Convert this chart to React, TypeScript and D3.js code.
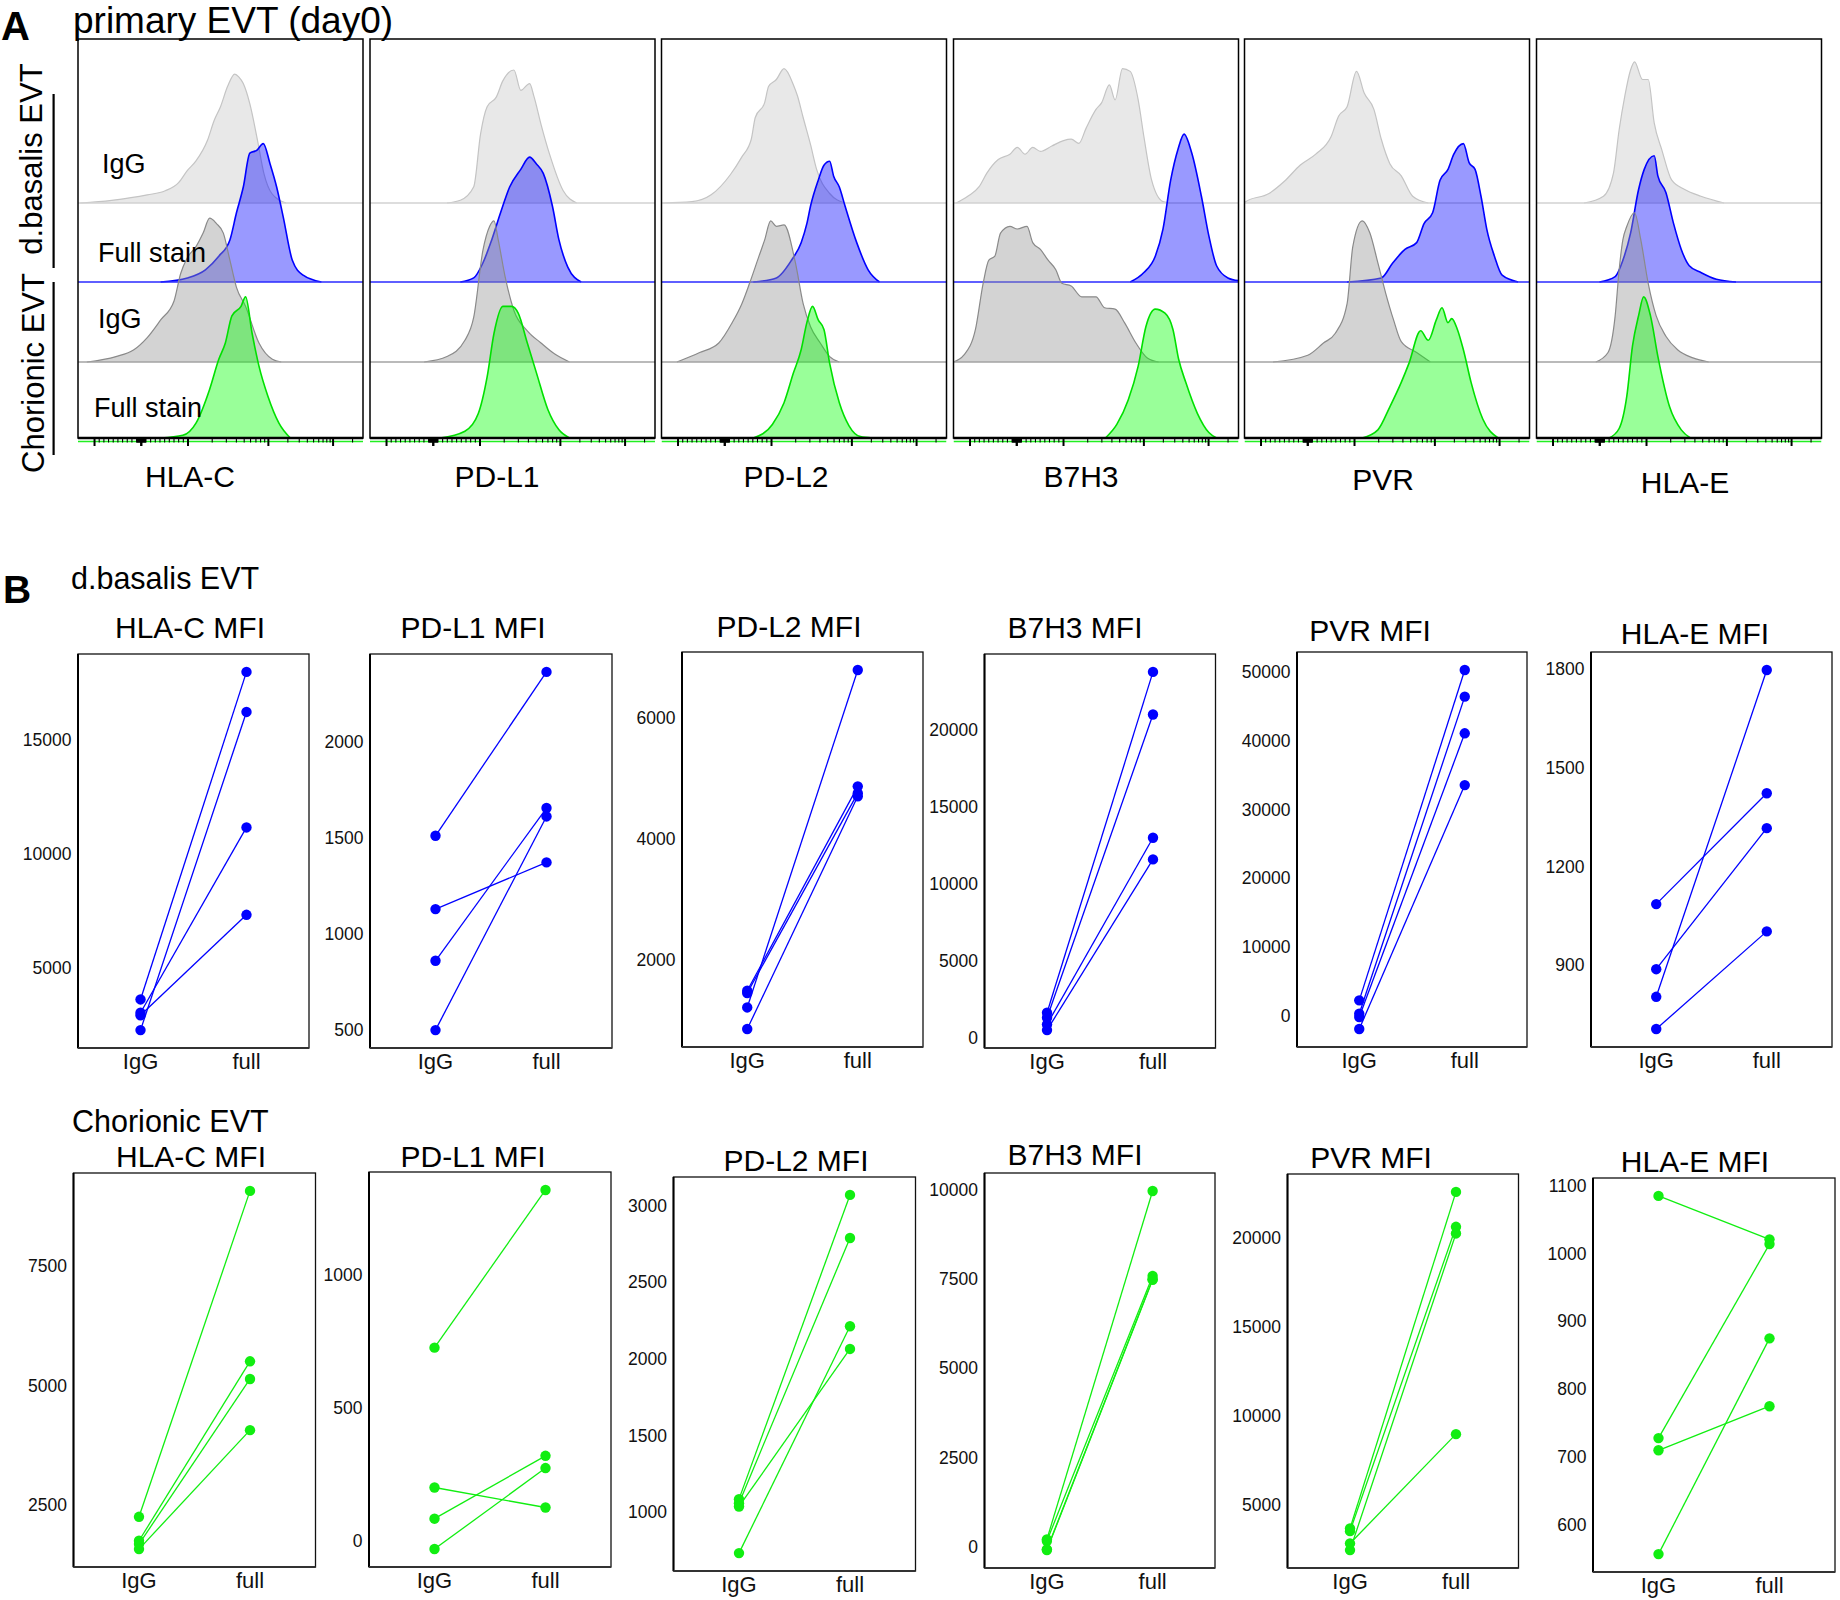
import React from "react";
import * as d3 from "d3";

const FONT = "'Liberation Sans', Arial, Helvetica, sans-serif";

// ---------------- Panel A: flow histograms ----------------
const histMarkers = ["HLA-C", "PD-L1", "PD-L2", "B7H3", "PVR", "HLA-E"];
const rowLabels = ["IgG", "Full stain", "IgG", "Full stain"];
const groupLabels = ["d.basalis EVT", "Chorionic EVT"];

// [channel (0-1000 across panel), % of mode]
const hlacBasalisIgG = [[8,0],[118,2],[243,6],[306,9],[353,15],[384,24],[414,31],[454,46],[478,61],[500,71],[525,86],[550,95],[564,93],[580,88],[603,73],[630,46],[652,22],[680,7],[730,0]];
const hlacBasalisFull = [[290,0],[384,3],[447,9],[494,19],[533,31],[556,51],[580,70],[603,95],[627,97],[650,102],[674,87],[697,70],[720,48],[752,16],[790,5],[854,0]];
const hlacChorIgG = [[31,0],[133,4],[196,9],[243,18],[290,31],[337,45],[360,65],[384,77],[414,85],[439,95],[462,106],[486,102],[510,95],[533,75],[556,55],[588,41],[635,14],[682,2],[713,0]];
const hlacChorFull = [[290,0],[368,2],[414,11],[462,36],[494,58],[517,70],[540,90],[572,97],[588,104],[611,77],[635,53],[666,31],[705,11],[745,0]];

const pdl1BasalisIgG = [[270,0],[317,2],[364,12],[388,51],[411,71],[443,78],[466,90],[505,98],[529,83],[560,88],[576,78],[600,58],[630,36],[678,9],[725,0]];
const pdl1BasalisFull = [[317,0],[364,3],[396,14],[427,31],[458,51],[490,70],[529,83],[560,92],[584,87],[608,80],[640,56],[663,31],[694,11],[741,0]];
const pdl1ChorIgG = [[190,0],[270,4],[333,16],[364,33],[396,82],[420,100],[435,104],[450,90],[474,63],[505,38],[552,23],[600,14],[647,6],[700,0]];
const pdl1ChorFull = [[246,0],[333,5],[380,18],[411,45],[435,77],[466,97],[497,97],[520,92],[552,70],[584,48],[624,21],[663,6],[700,0]];

const pdl2BasalisIgG = [[7,0],[107,1],[174,6],[242,21],[282,34],[315,47],[329,63],[362,74],[376,86],[403,91],[430,99],[463,87],[477,79],[497,63],[523,43],[544,25],[590,7],[644,0]];
const pdl2BasalisFull = [[322,0],[403,3],[456,16],[490,29],[510,43],[523,56],[550,75],[570,86],[590,89],[604,78],[624,70],[644,56],[685,29],[725,9],[765,0]];
const pdl2ChorIgG = [[54,0],[134,7],[201,14],[248,29],[282,43],[309,58],[342,78],[362,90],[383,104],[403,100],[430,101],[470,73],[497,43],[523,26],[557,14],[590,4],[624,0]];
const pdl2ChorFull = [[322,0],[389,10],[430,26],[463,48],[490,65],[510,85],[530,97],[550,87],[570,80],[590,55],[624,26],[658,9],[698,1],[740,0]];

const b7h3BasalisIgG = [[10,0],[50,5],[90,12],[117,22],[157,32],[198,36],[224,41],[251,36],[278,41],[305,38],[345,42],[386,46],[413,47],[440,44],[465,55],[500,69],[520,74],[547,87],[567,76],[593,99],[620,97],[648,76],[668,49],[695,17],[735,1],[760,0]];
const b7h3BasalisFull = [[620,0],[668,7],[708,19],[735,39],[762,75],[788,98],[809,109],[836,95],[870,63],[896,34],[923,12],[963,3],[1000,1]];
const b7h3ChorIgG = [[0,0],[36,5],[77,24],[104,58],[124,75],[145,78],[165,95],[198,100],[224,98],[258,100],[278,88],[305,83],[332,75],[359,68],[380,58],[413,56],[450,48],[500,48],[530,40],[567,39],[600,29],[640,14],[680,3],[720,0]];
const b7h3ChorFull = [[533,0],[573,10],[613,28],[648,53],[675,82],[708,95],[742,92],[770,80],[790,58],[815,41],[856,18],[896,4],[923,0]];

const pvrBasalisIgG = [[0,0],[4,1],[86,7],[140,16],[196,28],[250,36],[304,49],[330,64],[360,71],[393,97],[420,81],[454,69],[480,47],[510,29],[550,20],[590,5],[645,0]];
const pvrBasalisFull = [[360,0],[480,3],[520,14],[563,24],[604,29],[630,43],[660,51],[686,75],[714,83],[734,94],[768,102],[788,88],[809,83],[830,63],[850,39],[877,19],[904,5],[960,0]];
const pvrChorIgG = [[100,0],[222,5],[277,14],[318,21],[360,43],[380,85],[413,104],[440,95],[468,73],[495,51],[523,31],[550,15],[604,7],[652,0]];
const pvrChorFull = [[413,0],[468,6],[510,23],[550,41],[577,55],[618,79],[645,72],[673,87],[693,96],[714,85],[727,88],[747,80],[768,65],[795,41],[836,14],[890,0]];

const hlaeBasalisIgG = [[167,0],[235,5],[270,22],[290,54],[310,79],[330,98],[344,104],[372,91],[392,91],[413,59],[440,39],[474,17],[520,10],[577,5],[658,0]];
const hlaeBasalisFull = [[221,0],[276,4],[303,16],[330,36],[358,68],[378,83],[413,93],[426,78],[454,66],[481,43],[508,24],[536,12],[577,7],[631,2],[700,0]];
const hlaeChorIgG = [[208,0],[251,7],[276,34],[290,68],[303,90],[317,100],[344,110],[366,90],[392,58],[420,34],[454,19],[495,9],[549,3],[604,0]];
const hlaeChorFull = [[255,0],[290,7],[317,31],[337,68],[358,90],[376,104],[400,90],[426,60],[467,23],[508,6],[540,0]];

const histSets = [
  [hlacBasalisIgG, hlacBasalisFull, hlacChorIgG, hlacChorFull],
  [pdl1BasalisIgG, pdl1BasalisFull, pdl1ChorIgG, pdl1ChorFull],
  [pdl2BasalisIgG, pdl2BasalisFull, pdl2ChorIgG, pdl2ChorFull],
  [b7h3BasalisIgG, b7h3BasalisFull, b7h3ChorIgG, b7h3ChorFull],
  [pvrBasalisIgG, pvrBasalisFull, pvrChorIgG, pvrChorFull],
  [hlaeBasalisIgG, hlaeBasalisFull, hlaeChorIgG, hlaeChorFull],
];

// fluorescence axis tick values (biexponential-like display)
const linTickValues = d3.range(-1000, 1001, 100).concat(d3.range(-90, 91, 10));
const logTickValues = [2e3, 3e3, 4e3, 5e3, 6e3, 7e3, 8e3, 9e3, 1e4, 2e4, 3e4, 4e4, 5e4, 6e4, 7e4, 8e4, 9e4, 1e5, 2e5];
const majorTickValues = [-1000, 0, 1000, 1e4, 1e5];

// ---------------- Panel B: paired MFI ----------------
const categories = ["IgG", "full"];
const mfiMarkers = ["HLA-C MFI", "PD-L1 MFI", "PD-L2 MFI", "B7H3 MFI", "PVR MFI", "HLA-E MFI"];

const basalisHLAC_IgG = [3640, 2300, 3060, 2950];
const basalisHLAC_full = [17960, 16210, 11160, 7340];
const basalisPDL1_IgG = [1512, 1129, 859, 497];
const basalisPDL1_full = [2368, 1373, 1657, 1613];
const basalisPDL2_IgG = [1211, 1487, 1450, 853];
const basalisPDL2_full = [6800, 4872, 4760, 4707];
const basalisB7H3_IgG = [1660, 1340, 905, 540];
const basalisB7H3_full = [23730, 20970, 12990, 11590];
const basalisPVR_IgG = [2320, 390, -100, -1840];
const basalisPVR_full = [50240, 46370, 41050, 33540];
const basalisHLAE_IgG = [1086, 888, 804, 706];
const basalisHLAE_full = [1423, 1317, 1798, 1003];

const chorHLAC_IgG = [2249, 1747, 1677, 1572];
const chorHLAC_full = [9082, 5509, 5139, 4066];
const chorPDL1_IgG = [727, 202, 85, -29];
const chorPDL1_full = [1319, 127, 321, 275];
const chorPDL2_IgG = [1085, 1059, 1037, 733];
const chorPDL2_full = [3070, 2789, 2065, 2213];
const chorB7H3_IgG = [206, 160, -75, -94];
const chorB7H3_full = [9972, 7587, 7500, 7480];
const chorPVR_IgG = [3655, 3505, 2440, 2814];
const chorPVR_full = [22578, 20616, 20243, 8959];
const chorHLAE_IgG = [1085, 728, 710, 557];
const chorHLAE_full = [1021, 1014, 775, 875];

const basalisTicks = [
  [5000, 10000, 15000],
  [500, 1000, 1500, 2000],
  [2000, 4000, 6000],
  [0, 5000, 10000, 15000, 20000],
  [0, 10000, 20000, 30000, 40000, 50000],
  [900, 1200, 1500, 1800],
];
const chorTicks = [
  [2500, 5000, 7500],
  [0, 500, 1000],
  [1000, 1500, 2000, 2500, 3000],
  [0, 2500, 5000, 7500, 10000],
  [5000, 10000, 15000, 20000],
  [600, 700, 800, 900, 1000, 1100],
];

const basalisIgG = [basalisHLAC_IgG, basalisPDL1_IgG, basalisPDL2_IgG, basalisB7H3_IgG, basalisPVR_IgG, basalisHLAE_IgG];
const basalisFull = [basalisHLAC_full, basalisPDL1_full, basalisPDL2_full, basalisB7H3_full, basalisPVR_full, basalisHLAE_full];
const chorIgG = [chorHLAC_IgG, chorPDL1_IgG, chorPDL2_IgG, chorB7H3_IgG, chorPVR_IgG, chorHLAE_IgG];
const chorFull = [chorHLAC_full, chorPDL1_full, chorPDL2_full, chorB7H3_full, chorPVR_full, chorHLAE_full];

// ---------------- layout ----------------
const histLeft = [78, 370, 661.5, 953.5, 1244.5, 1536.5];
const histW = 285;
const histTop = 39;
const histBottom = 438;
const rowBase = [164, 243, 323, 399];
const labelCenters = [190, 497, 786, 1081, 1383, 1685];
const labelBase = [487, 487, 487, 487, 490, 493];

const row1Boxes = [
  [78, 309, 654, 1048],
  [370, 612, 654, 1048],
  [682, 923, 652, 1047],
  [984.5, 1215.5, 654, 1048],
  [1297, 1527, 652, 1047],
  [1591, 1832, 652, 1047],
];
const row1Titles = [[190, 638], [473, 638], [789, 637], [1075, 638], [1370, 641], [1695, 644]];
const row2Boxes = [
  [73.5, 315.5, 1173, 1567],
  [369, 611, 1172, 1567],
  [673.5, 915.5, 1177, 1571],
  [984.5, 1215, 1173, 1568],
  [1287.5, 1518.5, 1174, 1568],
  [1593, 1835, 1178, 1572],
];
const row2Titles = [[191, 1167], [473, 1167], [796, 1171], [1075, 1165], [1371, 1168], [1695, 1172]];

const rowStyles = [
  { fill: "#c6c6c6", op: 0.4, stroke: "#c4c4c4", sw: 1.2, line: "#d2d2d2" },
  { fill: "#0000ff", op: 0.4, stroke: "#0000ff", sw: 1.6, line: "#2a2aff" },
  { fill: "#979797", op: 0.42, stroke: "#8a8a8a", sw: 1.2, line: "#a3a3a3" },
  { fill: "#00ff00", op: 0.4, stroke: "#00e000", sw: 1.6, line: "#22ee22" },
];

function HistPanel({ idx }: { idx: number }) {
  const x0 = histLeft[idx];
  const x1 = x0 + histW;
  const xs = d3.scaleLinear().domain([0, 1000]).range([x0, x1]);
  const hs = d3.scaleLinear().domain([0, 100]).range([0, 135.7]);
  const linS = d3.scaleLinear().domain([-1000, 1000]).range([58, 386]);
  const logS = d3.scaleLog().domain([1000, 10000, 100000]).range([386, 668, 895]);
  const ticks = [
    ...linTickValues.map((v) => ({ p: xs(linS(v)), major: majorTickValues.includes(v) })),
    ...logTickValues.map((v) => ({ p: xs(logS(v)), major: majorTickValues.includes(v) })),
  ];
  const clipId = `hclip${idx}`;
  const sets = histSets[idx];
  return (
    <g>
      <defs>
        <clipPath id={clipId}>
          <rect x={x0} y={histTop} width={histW} height={histBottom - histTop + 6} />
        </clipPath>
      </defs>
      <g clipPath={`url(#${clipId})`}>
        {sets.map((data, r) => {
          const base = histTop + rowBase[r];
          const st = rowStyles[r];
          const area = d3
            .area<number[]>()
            .x((d) => xs(d[0]))
            .y0(base)
            .y1((d) => base - hs(d[1]))
            .curve(d3.curveMonotoneX);
          const line = d3
            .line<number[]>()
            .x((d) => xs(d[0]))
            .y((d) => base - hs(d[1]))
            .curve(d3.curveMonotoneX);
          const lineY = r === 3 ? base + 3.5 : base;
          return (
            <g key={r}>
              <path d={area(data) || ""} fill={st.fill} fillOpacity={st.op} stroke="none" />
              <path d={line(data) || ""} fill="none" stroke={st.stroke} strokeWidth={st.sw} />
              <line x1={x0} x2={x1} y1={lineY} y2={lineY} stroke={st.line} strokeWidth={r === 1 ? 1.3 : 1.4} />
            </g>
          );
        })}
      </g>
      {ticks.map((t, i) => (
        <line key={i} x1={t.p} x2={t.p} y1={histBottom} y2={histBottom + (t.major ? 8 : 4.5)} stroke="#000" strokeWidth={t.major ? 2 : 1.1} />
      ))}
      <rect x={x0} y={histTop} width={histW} height={histBottom - histTop} fill="none" stroke="#000" strokeWidth={1.5} />
      <line x1={x0} x2={x1} y1={histBottom} y2={histBottom} stroke="#000" strokeWidth={2.6} />
      <text x={labelCenters[idx]} y={labelBase[idx]} textAnchor="middle" fontSize={30} fontFamily={FONT}>
        {histMarkers[idx]}
      </text>
    </g>
  );
}

function PairPanel({
  box, title, tpos, igg, full, ticks, color,
}: {
  box: number[]; title: string; tpos: number[]; igg: number[]; full: number[]; ticks: number[]; color: string;
}) {
  const [x0, x1, y0, y1] = box;
  const all = igg.concat(full);
  const [mn, mx] = d3.extent(all) as [number, number];
  const pad = (mx - mn) * 0.05;
  const y = d3.scaleLinear().domain([mn - pad, mx + pad]).range([y1, y0]);
  const x = d3.scalePoint<string>().domain(categories).range([x0, x1]).padding(0.59);
  const lineGen = d3.line<[string, number]>().x((d) => x(d[0]) as number).y((d) => y(d[1]));
  return (
    <g>
      <text x={tpos[0]} y={tpos[1]} textAnchor="middle" fontSize={30} fontFamily={FONT}>
        {title}
      </text>
      <rect x={x0} y={y0} width={x1 - x0} height={y1 - y0} fill="none" stroke="#111" strokeWidth={1.3} />
      <line x1={x0} x2={x0} y1={y0} y2={y1} stroke="#000" strokeWidth={2} />
      <line x1={x0} x2={x1} y1={y1} y2={y1} stroke="#333" strokeWidth={2.2} />
      {ticks.map((t) => (
        <text key={t} x={x0 - 6.5} y={y(t) + 6} textAnchor="end" fontSize={17.5} fontFamily={FONT} fill="#111">
          {t}
        </text>
      ))}
      {igg.map((v, i) => (
        <path key={"l" + i} d={lineGen([["IgG", v], ["full", full[i]]]) || ""} fill="none" stroke={color} strokeWidth={1.3} />
      ))}
      {igg.map((v, i) => (
        <circle key={"a" + i} cx={x("IgG")} cy={y(v)} r={5.2} fill={color} />
      ))}
      {full.map((v, i) => (
        <circle key={"b" + i} cx={x("full")} cy={y(v)} r={5.2} fill={color} />
      ))}
      {categories.map((c) => (
        <text key={c} x={x(c)} y={y1 + 21} textAnchor="middle" fontSize={22} fontFamily={FONT} fill="#111">
          {c}
        </text>
      ))}
    </g>
  );
}

export default function App() {
  const blue = "#0000ff";
  const green = "#11ee11";
  return (
    <svg
      width={1840}
      height={1600}
      viewBox="0 0 1840 1600"
      style={{ position: "absolute", left: 0, top: 0, background: "#fff" }}
      fontFamily={FONT}
    >
      <rect x={0} y={0} width={1840} height={1600} fill="#fff" />
      {/* Panel A */}
      <text x={1} y={40} fontSize={40} fontWeight="bold" fontFamily={FONT}>A</text>
      <text x={73} y={33} fontSize={37} fontFamily={FONT}>primary EVT (day0)</text>
      <text transform="translate(42,159) rotate(-90)" textAnchor="middle" fontSize={31} fontFamily={FONT}>
        {groupLabels[0]}
      </text>
      <text transform="translate(43.5,373) rotate(-90)" textAnchor="middle" fontSize={31} fontFamily={FONT}>
        {groupLabels[1]}
      </text>
      <line x1={53.6} x2={53.6} y1={94} y2={268} stroke="#000" strokeWidth={2.2} />
      <line x1={53.6} x2={53.6} y1={282} y2={455} stroke="#000" strokeWidth={2.2} />
      {histMarkers.map((_, i) => (
        <HistPanel key={i} idx={i} />
      ))}
      {rowLabels.map((t, r) => (
        <text
          key={r}
          x={[102, 98, 98, 94][r]}
          y={[173, 262, 328, 417][r]}
          fontSize={27}
          fontFamily={FONT}
        >
          {t}
        </text>
      ))}

      {/* Panel B */}
      <text x={3} y={603} fontSize={39} fontWeight="bold" fontFamily={FONT}>B</text>
      <text x={71} y={589} fontSize={30.5} fontFamily={FONT}>{groupLabels[0]}</text>
      <text x={72} y={1132} fontSize={30.5} fontFamily={FONT}>{groupLabels[1]}</text>
      {mfiMarkers.map((m, i) => (
        <PairPanel
          key={"r1" + i}
          box={row1Boxes[i]}
          title={m}
          tpos={row1Titles[i]}
          igg={basalisIgG[i]}
          full={basalisFull[i]}
          ticks={basalisTicks[i]}
          color={blue}
        />
      ))}
      {mfiMarkers.map((m, i) => (
        <PairPanel
          key={"r2" + i}
          box={row2Boxes[i]}
          title={m}
          tpos={row2Titles[i]}
          igg={chorIgG[i]}
          full={chorFull[i]}
          ticks={chorTicks[i]}
          color={green}
        />
      ))}
    </svg>
  );
}
